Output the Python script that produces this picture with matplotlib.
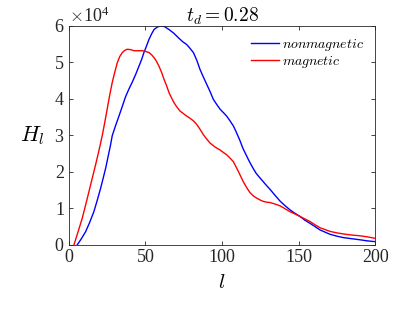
import numpy as np
import matplotlib
matplotlib.use("Agg")
import matplotlib.pyplot as plt

plt.rcParams["font.family"] = ["Liberation Serif", "DejaVu Serif"]
plt.rcParams["mathtext.fontset"] = "cm"

# values (H_l in units of 1e4)
l_nonmag = [5.4, 8, 10.9, 13.5, 16.3, 18.5, 20.7, 22.4, 24, 25.6,
            27.2, 28.3, 30.5, 32.7, 35, 37, 39.2, 41.4, 43.6, 45.8,
            47.5, 49, 50.7, 52.3, 54, 55.6, 57.8, 59.9, 62.5, 65.4,
            68.5, 71.9, 74.5, 76.9, 79, 81.3, 83.5, 85.6, 87.8, 90,
            92.2, 94.3, 96.5, 98.7, 101, 103, 105.2, 107.4, 109.2, 111.5,
            113.6, 115.8, 117.9, 120, 122.3, 125.5, 128.8, 131.4, 134.6, 137.9,
            141, 144.4, 147.5, 150.9, 154, 157.5, 160.8, 164, 167.3, 170.6,
            175, 179.3, 184.7, 190.2, 195, 200]
h_nonmag = [0.0, 0.16, 0.36, 0.61, 0.91, 1.22, 1.55, 1.83, 2.1, 2.42,
            2.74, 2.99, 3.27, 3.53, 3.81, 4.06, 4.27, 4.46, 4.67, 4.9,
            5.08, 5.27, 5.45, 5.63, 5.78, 5.9, 5.97, 6.0, 5.98, 5.9,
            5.8, 5.66, 5.56, 5.49, 5.39, 5.27, 5.06, 4.81, 4.6, 4.4,
            4.2, 3.99, 3.85, 3.72, 3.62, 3.53, 3.4, 3.26, 3.1, 2.88,
            2.65, 2.46, 2.28, 2.12, 1.96, 1.8, 1.64, 1.52, 1.36, 1.2,
            1.08, 0.96, 0.87, 0.78, 0.68, 0.59, 0.5, 0.41, 0.35, 0.29,
            0.24, 0.2, 0.17, 0.14, 0.11, 0.09]
l_mag = [3.3, 6, 8.7, 10.9, 13.1, 15.2, 17.4, 19.6, 21.8, 23.4,
         25, 26.6, 28.3, 30, 31.6, 33.2, 34.9, 36.5, 38.1, 40.3,
         42.5, 45.2, 47.9, 50.1, 52.3, 54, 55.6, 57.2, 58.8, 60.5,
         62.1, 63.8, 65.4, 67, 68.6, 70.3, 72.5, 74.7, 76.9, 79.1,
         81.3, 83.5, 85.6, 87.8, 90, 92.2, 95.5, 98.7, 101, 103,
         105.2, 107.4, 109, 110.7, 112.3, 113.9, 116.1, 118.3, 120.5, 122.7,
         124.9, 127.1, 129.3, 131.4, 134.6, 137.9, 141.2, 144.4, 147.6, 150.9,
         154.2, 157.5, 160.8, 164, 167.3, 170.6, 175, 179.3, 184.7, 190.2,
         195, 200]
h_mag = [0.0, 0.36, 0.73, 1.09, 1.46, 1.82, 2.19, 2.58, 3.0, 3.35,
         3.72, 4.09, 4.45, 4.74, 4.99, 5.16, 5.27, 5.33, 5.36, 5.35,
         5.32, 5.32, 5.32, 5.3, 5.27, 5.21, 5.13, 5.03, 4.9, 4.73,
         4.54, 4.36, 4.17, 4.03, 3.9, 3.79, 3.67, 3.6, 3.53, 3.47,
         3.4, 3.3, 3.17, 3.02, 2.9, 2.79, 2.68, 2.6, 2.53, 2.47,
         2.38, 2.28, 2.15, 2.01, 1.87, 1.73, 1.57, 1.43, 1.34, 1.28,
         1.23, 1.19, 1.17, 1.16, 1.12, 1.07, 0.99, 0.91, 0.85, 0.78,
         0.71, 0.64, 0.55, 0.47, 0.42, 0.37, 0.33, 0.3, 0.27, 0.25,
         0.22, 0.18]
title = "$t_d = 0.28$"

fig = plt.figure(figsize=(4.15, 3.12), dpi=100)
ax = fig.add_axes([0.166, 0.215, 0.738, 0.702])

ax.plot(l_nonmag, np.array(h_nonmag) * 1e4, color="#0000ff", lw=1.0,
        label="$nonmagnetic$")
ax.plot(l_mag, np.array(h_mag) * 1e4, color="#ff0000", lw=1.0, label="$magnetic$")

ax.set_xlim(0, 200)
ax.set_ylim(0, 6e4)
ax.set_xticks([0, 50, 100, 150, 200])
ax.set_yticks(np.arange(0, 7e4, 1e4))
ax.ticklabel_format(axis="y", style="sci", scilimits=(4, 4), useMathText=True)
ax.yaxis.get_offset_text().set_fontsize(13)
ax.yaxis.get_offset_text().set_color("#262626")

ax.tick_params(direction="in", top=True, right=True, length=3, width=0.6,
               labelsize=13, colors="#262626", pad=3)
for s in ax.spines.values():
    s.set_color("#262626")
    s.set_linewidth(0.6)

ax.set_xlabel("$l$", fontsize=15, labelpad=6)
ax.set_ylabel("$H_l$", fontsize=16, rotation=0, labelpad=16, va="center")
ax.set_title(title, fontsize=14, pad=3)

ax.legend(loc="upper right", frameon=False, fontsize=10, handlelength=2.0,
          handletextpad=0.2, labelspacing=0.05, borderaxespad=0.4)

fig.savefig("out.png", dpi=100)
